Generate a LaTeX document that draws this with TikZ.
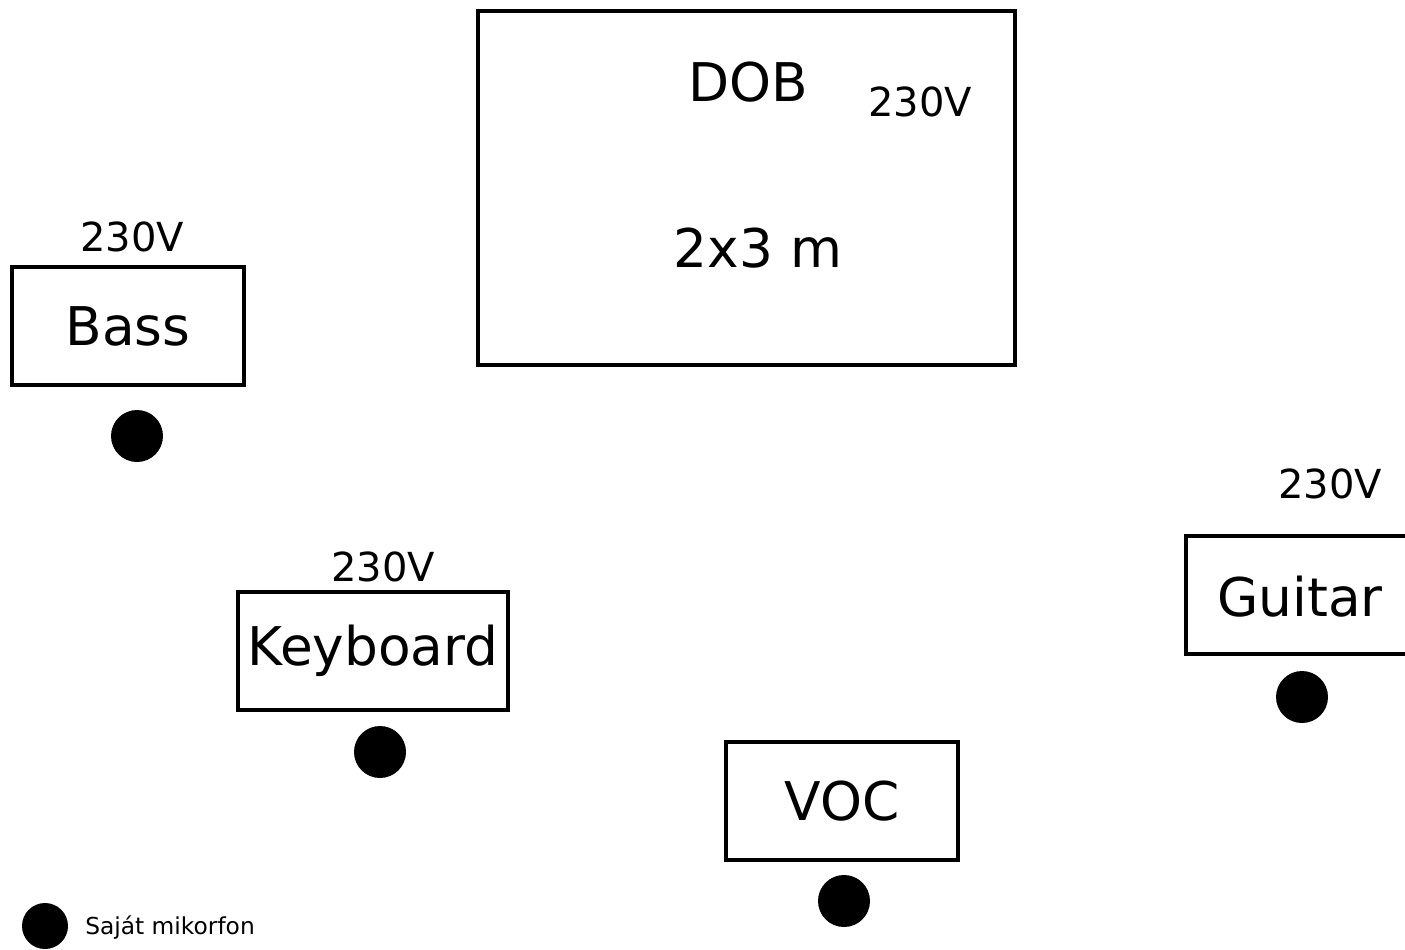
\documentclass[tikz,border=0pt]{standalone}
\usepackage{fontspec}
\setmainfont{DejaVu Sans}

\tikzset{
    InstrumentBox/.style={draw, line width=3pt, minimum width=174pt, minimum height=88.5pt,
        inner sep=0pt, font=\fontsize{40}{48}\selectfont},
    PowerLabel/.style={font=\fontsize{30}{36}\selectfont, inner sep=0pt},
    MicDot/.style={fill=black, circle, minimum size=39pt, inner sep=0pt},
    LegendDot/.style={fill=black, circle, minimum size=34.5pt, inner sep=0pt}
}

\begin{document}
\begin{tikzpicture}[x=0.75pt, y=-0.75pt]

    \useasboundingbox (0, 0) rectangle (1405, 949);
    \clip (0, 0) rectangle (1405, 949);

    % Dob emelvény
    \draw[line width=3pt] (478, 11) rectangle (1015, 365);
    \node[font=\fontsize{40}{48}\selectfont] (DrumName) at (748, 82) {DOB};
    \node[PowerLabel] (DrumPower) at (920, 102) {230V};
    \node[font=\fontsize{40}{48}\selectfont] (DrumSize) at (758, 248) {2x3 m};

    % Hangszerek
    \node[InstrumentBox] (Bass) at (128, 326) {Bass};
    \node[PowerLabel] (BassPower) at (132, 237) {230V};
    \node[MicDot] (BassMic) at (137, 436) {};

    \node[InstrumentBox, minimum width=202.5pt] (Keyboard) at (373, 651) {Keyboard};
    \node[PowerLabel] (KeyboardPower) at (383, 567) {230V};
    \node[MicDot] (KeyboardMic) at (380, 752) {};

    \node[InstrumentBox] (Voc) at (842, 801) {VOC};
    \node[MicDot] (VocMic) at (844, 901) {};

    \node[InstrumentBox, minimum width=180pt] (Guitar) at (1306, 595) {};
    \node[font=\fontsize{40}{48}\selectfont] (GuitarName) at (1300, 597) {Guitar};
    \node[PowerLabel] (GuitarPower) at (1330, 484) {230V};
    \node[MicDot] (GuitarMic) at (1302, 697) {};

    % Jelmagyarázat
    \node[LegendDot] (LegendMic) at (45, 926) {};
    \node[anchor=west, inner sep=0pt, font=\fontsize{17.5}{21}\selectfont] (LegendText) at (85, 928) {Saját mikorfon};

\end{tikzpicture}
\end{document}
